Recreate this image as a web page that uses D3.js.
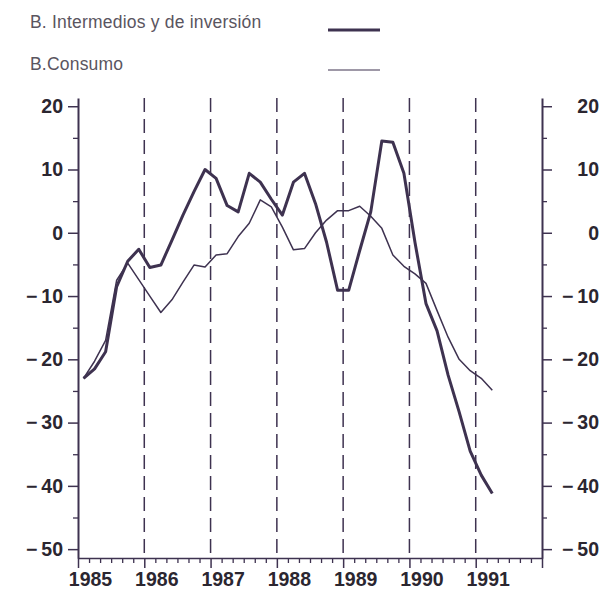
<!DOCTYPE html>
<html>
<head>
<meta charset="utf-8">
<script src="https://cdn.jsdelivr.net/npm/d3@7"></script>
<style>
  body { margin: 0; background: #fff; }
  svg { display: block; font-family: "Liberation Sans", Arial, Helvetica, sans-serif; }
  .tick text { font-weight: bold; font-size: 19.5px; fill: #2b2630; }
  .legend { font-size: 17.5px; fill: #5a5560; letter-spacing: 0.2px; }
</style>
</head>
<body>
<svg></svg>
<script>
const width  = 611,
      height = 606,
      ink = "#3e3250";

// bimonthly observations, first period Jan-Feb 1985
const seriesNames = ["B. Intermedios y de inversión", "B.Consumo"];
const intermedios = [-23, -21.5, -18.8, -8.5, -4.5, -2.6, -5.5, -5.1, -1.2, 2.8,
                     6.5, 10, 8.6, 4.3, 3.3, 9.4, 8, 5.3, 2.8, 8,
                     9.4, 4.6, -1.5, -9.1, -9.1, -2.8, 3.3, 14.5, 14.3, 9.4,
                     -1.5, -11.2, -15.5, -22.5, -28.3, -34.5, -38.3, -41.2];
const consumo     = [-23, -20.3, -17, -7.5, -4.8, -7.4, -10, -12.6, -10.6, -7.8,
                     -5.1, -5.4, -3.5, -3.3, -0.6, 1.5, 5.2, 4.1, 0.9, -2.7,
                     -2.5, 0, 2, 3.5, 3.5, 4.2, 2.6, 0.7, -3.5, -5.3,
                     -6.5, -8, -12.3, -16.5, -20, -21.8, -23, -24.9];
const years       = [1985, 1986, 1987, 1988, 1989, 1990, 1991, 1992];
const yearLabels  = ["1985", "1986", "1987", "1988", "1989", "1990", "1991"];
const yTicks      = [20, 10, 0, -10, -20, -30, -40, -50];
const yMinorTicks = [15, 5, -5, -15, -25, -35, -45];

const svg = d3.select("svg").attr("width", width).attr("height", height);

const x = d3.scaleLinear().domain([1985, 1992]).range([78, 542]);
const y = d3.scaleLinear().domain([-51.4, 21.3]).range([558, 98]);

const periodX = i => 1985 + (i + 0.5) / 6;
const fmt = d => d < 0 ? "\u2212\u2009" + Math.abs(d) : String(d);

// dashed year guides
svg.append("g")
  .selectAll("line")
  .data(years.slice(1, -1))
  .join("line")
    .attr("x1", d => x(d)).attr("x2", d => x(d))
    .attr("y1", y.range()[1]).attr("y2", y.range()[0])
    .attr("stroke", ink)
    .attr("stroke-width", 1.5)
    .attr("stroke-dasharray", "14,7");

// x axis
const minorX = d3.range(0, 43).map(i => 1985 + i / 6).filter(d => Math.abs(d * 6 - Math.round(d) * 6) > 0.01);
svg.append("g")
  .attr("transform", `translate(0,${y.range()[0]})`)
  .call(d3.axisBottom(x).tickValues(minorX).tickSize(5).tickFormat(""))
  .call(g => g.selectAll("line").attr("stroke", ink).attr("stroke-width", 1.3))
  .call(g => g.select(".domain").remove());

const xAxis = svg.append("g")
  .attr("transform", `translate(0,${y.range()[0]})`)
  .call(d3.axisBottom(x).tickValues(years).tickSize(10).tickSizeOuter(0)
          .tickFormat((d, i) => yearLabels[i] || ""));
xAxis.select(".domain").attr("stroke", ink).attr("stroke-width", 1.5);
xAxis.selectAll("line").attr("stroke", ink).attr("stroke-width", 1.5);
xAxis.selectAll("text").attr("dx", 12).attr("y", 14).attr("dy", "0.71em");

// y axes
function yAxis(axisFn, xPos, labelAnchorX) {
  svg.append("g")
    .attr("transform", `translate(${xPos},0)`)
    .call(axisFn(y).tickValues(yMinorTicks).tickSize(5).tickFormat(""))
    .call(g => g.selectAll("line").attr("stroke", ink).attr("stroke-width", 1.3))
    .call(g => g.select(".domain").remove());

  const g = svg.append("g")
    .attr("transform", `translate(${xPos},0)`)
    .call(axisFn(y).tickValues(yTicks).tickSize(10).tickSizeOuter(0).tickFormat(fmt));
  g.select(".domain").attr("stroke", ink).attr("stroke-width", 2);
  g.selectAll("line").attr("stroke", ink).attr("stroke-width", 1.5);
  g.selectAll("text").attr("x", labelAnchorX).attr("text-anchor", "end");
}
yAxis(d3.axisLeft, 78, -15);
yAxis(d3.axisRight, 542, 57);

// lines
const line = d3.line().x((d, i) => x(periodX(i))).y(d => y(d));

svg.append("path")
  .datum(consumo)
  .attr("fill", "none")
  .attr("stroke", ink)
  .attr("stroke-width", 1.5)
  .attr("stroke-linejoin", "round")
  .attr("d", line);

svg.append("path")
  .datum(intermedios)
  .attr("fill", "none")
  .attr("stroke", ink)
  .attr("stroke-width", 3)
  .attr("stroke-linejoin", "round")
  .attr("d", line);

// legend
const legend = svg.append("g");
[{name: seriesNames[0], w: 3, ty: 28, ly: 30},
 {name: seriesNames[1], w: 1.2, ty: 70, ly: 70}].forEach(d => {
  legend.append("text").attr("class", "legend")
    .attr("x", 30).attr("y", d.ty).text(d.name);
  legend.append("line")
    .attr("x1", 328).attr("x2", 380).attr("y1", d.ly).attr("y2", d.ly)
    .attr("stroke", ink).attr("stroke-width", d.w);
});
</script>
</body>
</html>
